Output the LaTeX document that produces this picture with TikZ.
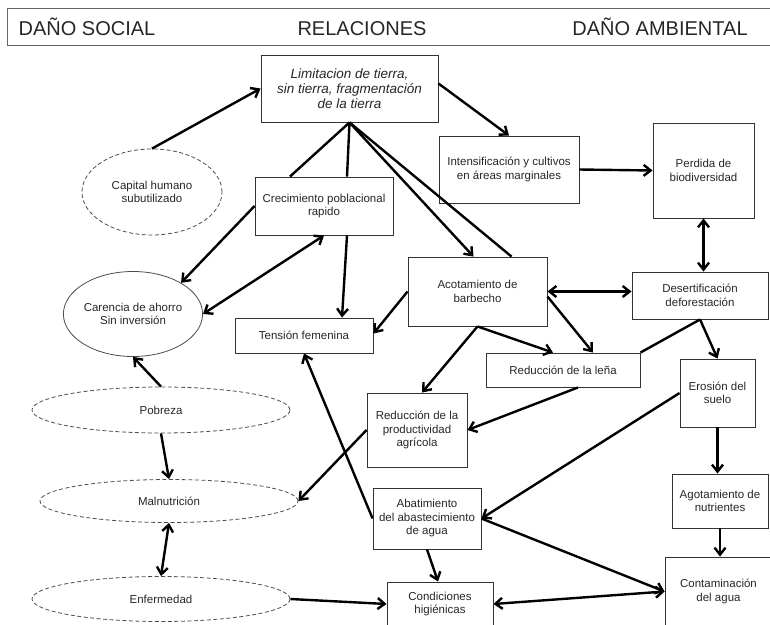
\documentclass[tikz,border=0pt]{standalone}
\usepackage{fontspec}
\setmainfont{Liberation Sans}
\usetikzlibrary{arrows.meta,shapes.geometric,calc}
\begin{document}
\begin{tikzpicture}[x=1pt,y=-1pt,
 bx/.style={draw=black!80,line width=0.9pt,rectangle,inner sep=0pt,align=center,font=\fontsize{11.5}{13.5}\selectfont,text=black!85},
 el/.style={draw=black!70,line width=0.8pt,ellipse,inner sep=0pt,align=center,font=\fontsize{11.5}{13.5}\selectfont,text=black!85},
 dl/.style={dash pattern=on 4pt off 2.5pt},
 hd/.style={font=\fontsize{20}{24}\selectfont,text=black!85,inner sep=0pt,anchor=base},
 ar/.style={line width=2.4pt,-{Straight Barb[length=7pt,width=11pt]}},
 dar/.style={line width=2.4pt,{Straight Barb[length=7pt,width=11pt]}-{Straight Barb[length=7pt,width=11pt]}},
 ln/.style={line width=2.4pt}]
\useasboundingbox (0,0) rectangle (770,624);
% header
\draw[black!60,line width=0.8pt] (772,8) -- (7,8) -- (7,45) -- (772,45);
\node[hd] (hsoc) at (87,35) {DAÑO SOCIAL};
\node[hd] (hrel) at (362,35) {RELACIONES};
\node[hd] (hamb) at (660,35) {DAÑO AMBIENTAL};
% nodes
\node[bx,minimum width=177pt,minimum height=67pt,font=\fontsize{13.5}{15}\selectfont\itshape] (lim) at (349.5,88.5) {Limitacion de tierra,\\sin tierra, fragmentación\\de la tierra};
\node[el,dl,minimum width=140pt,minimum height=86pt] (cap) at (152,192) {Capital humano\\subutilizado};
\node[bx,minimum width=140pt,minimum height=67pt] (intens) at (509,169.5) {Intensificación y cultivos\\en áreas marginales};
\node[bx,minimum width=101pt,minimum height=95pt] (perd) at (703.5,170.5) {Perdida de\\biodiversidad};
\node[bx,minimum width=138pt,minimum height=58pt] (crec) at (324,206) {Crecimiento poblacional\\rapido};
\node[bx,minimum width=139pt,minimum height=69pt] (acot) at (477.5,291.5) {Acotamiento de\\barbecho};
\node[bx,minimum width=136pt,minimum height=47pt] (desert) at (700,295.5) {Desertificación\\deforestación};
\node[el,minimum width=137pt,minimum height=85pt] (care) at (133,314) {Carencia de ahorro\\Sin inversión};
\node[bx,minimum width=138pt,minimum height=35pt] (tens) at (304,335.5) {Tensión femenina};
\node[bx,minimum width=154pt,minimum height=34pt] (lena) at (563,370) {Reducción de la leña};
\node[bx,minimum width=75pt,minimum height=68pt] (eros) at (717.5,393) {Erosión del\\suelo};
\node[bx,minimum width=100pt,minimum height=74pt] (redp) at (417,430) {Reducción de la\\productividad\\agrícola};
\node[el,dl,minimum width=258pt,minimum height=46pt] (pobr) at (161,410) {Pobreza};
\node[el,dl,minimum width=258pt,minimum height=43pt] (maln) at (169,501) {Malnutrición};
\node[el,dl,minimum width=258pt,minimum height=45pt] (enf) at (161,599) {Enfermedad};
\node[bx,minimum width=108pt,minimum height=61pt] (abat) at (427,518.5) {Abatimiento\\del abastecimiento\\de agua};
\node[bx,minimum width=96pt,minimum height=54pt] (agot) at (720,501) {Agotamiento de\\nutrientes};
\node[bx,minimum width=107pt,minimum height=69pt] (cont) at (718.5,591.5) {Contaminación\\del agua};
\node[bx,minimum width=106pt,minimum height=44pt] (cond) at (440,604) {Condiciones\\higiénicas};
% connectors
\draw[ar] (cap.north) -- (lim.west);
\draw[ar] ([yshift=5pt]lim.east) -- (intens.north);
\draw[ln] (lim.south) -- ([xshift=-34pt]crec.north);
\draw[ln] (lim.south) -- ([xshift=23pt]crec.north);
\draw[ar] (lim.south) -- ([xshift=-4pt]acot.north);
\draw[ln] (lim.south) -- ([xshift=34pt]acot.north);
\draw[ar] (intens.east) -- (perd.west);
\draw[dar] (perd.south) -- (perd.south |- desert.north);
\draw[dar] (acot.east) -- (acot.east -| desert.west);
\draw[ar] (crec.west) -- (care.33);
\draw[dar] (care.east) -- (crec.south);
\draw[ar] ([xshift=23pt]crec.south) -- ([xshift=38pt]tens.north);
\draw[ar] (acot.west) -- ([yshift=2pt]tens.east);
\draw[ar] (acot.south) -- ([xshift=-10pt]lena.north);
\draw[ar] ([yshift=-5pt]acot.east) -- ([xshift=30pt]lena.north);
\draw[ar] (acot.south) -- ([xshift=5pt]redp.north);
\draw[ln] (desert.south) -- (lena.north east);
\draw[ar] (desert.south) -- (eros.north);
\draw[ar] ([xshift=15pt]lena.south) -- (redp.east);
\draw[ar] (redp.west) -- (maln.east);
\draw[ar] (pobr.north) -- (care.south);
\draw[ar] (pobr.south) -- (maln.north);
\draw[dar] (maln.south) -- (enf.north);
\draw[ar] (enf.east) -- (cond.west);
\draw[ar] (abat.west) -- (tens.south);
\draw[ar] (eros.west) -- (abat.east);
\draw[ar] (abat.east) -- (cont.west);
\draw[dar] (cond.east) -- (cont.west);
\draw[ar] (abat.south) -- ([xshift=-2pt]cond.north);
\draw[ar] (eros.south) -- (eros.south |- agot.north);
\draw[ar] (agot.south) -- (agot.south |- cont.north);
\end{tikzpicture}
\end{document}
